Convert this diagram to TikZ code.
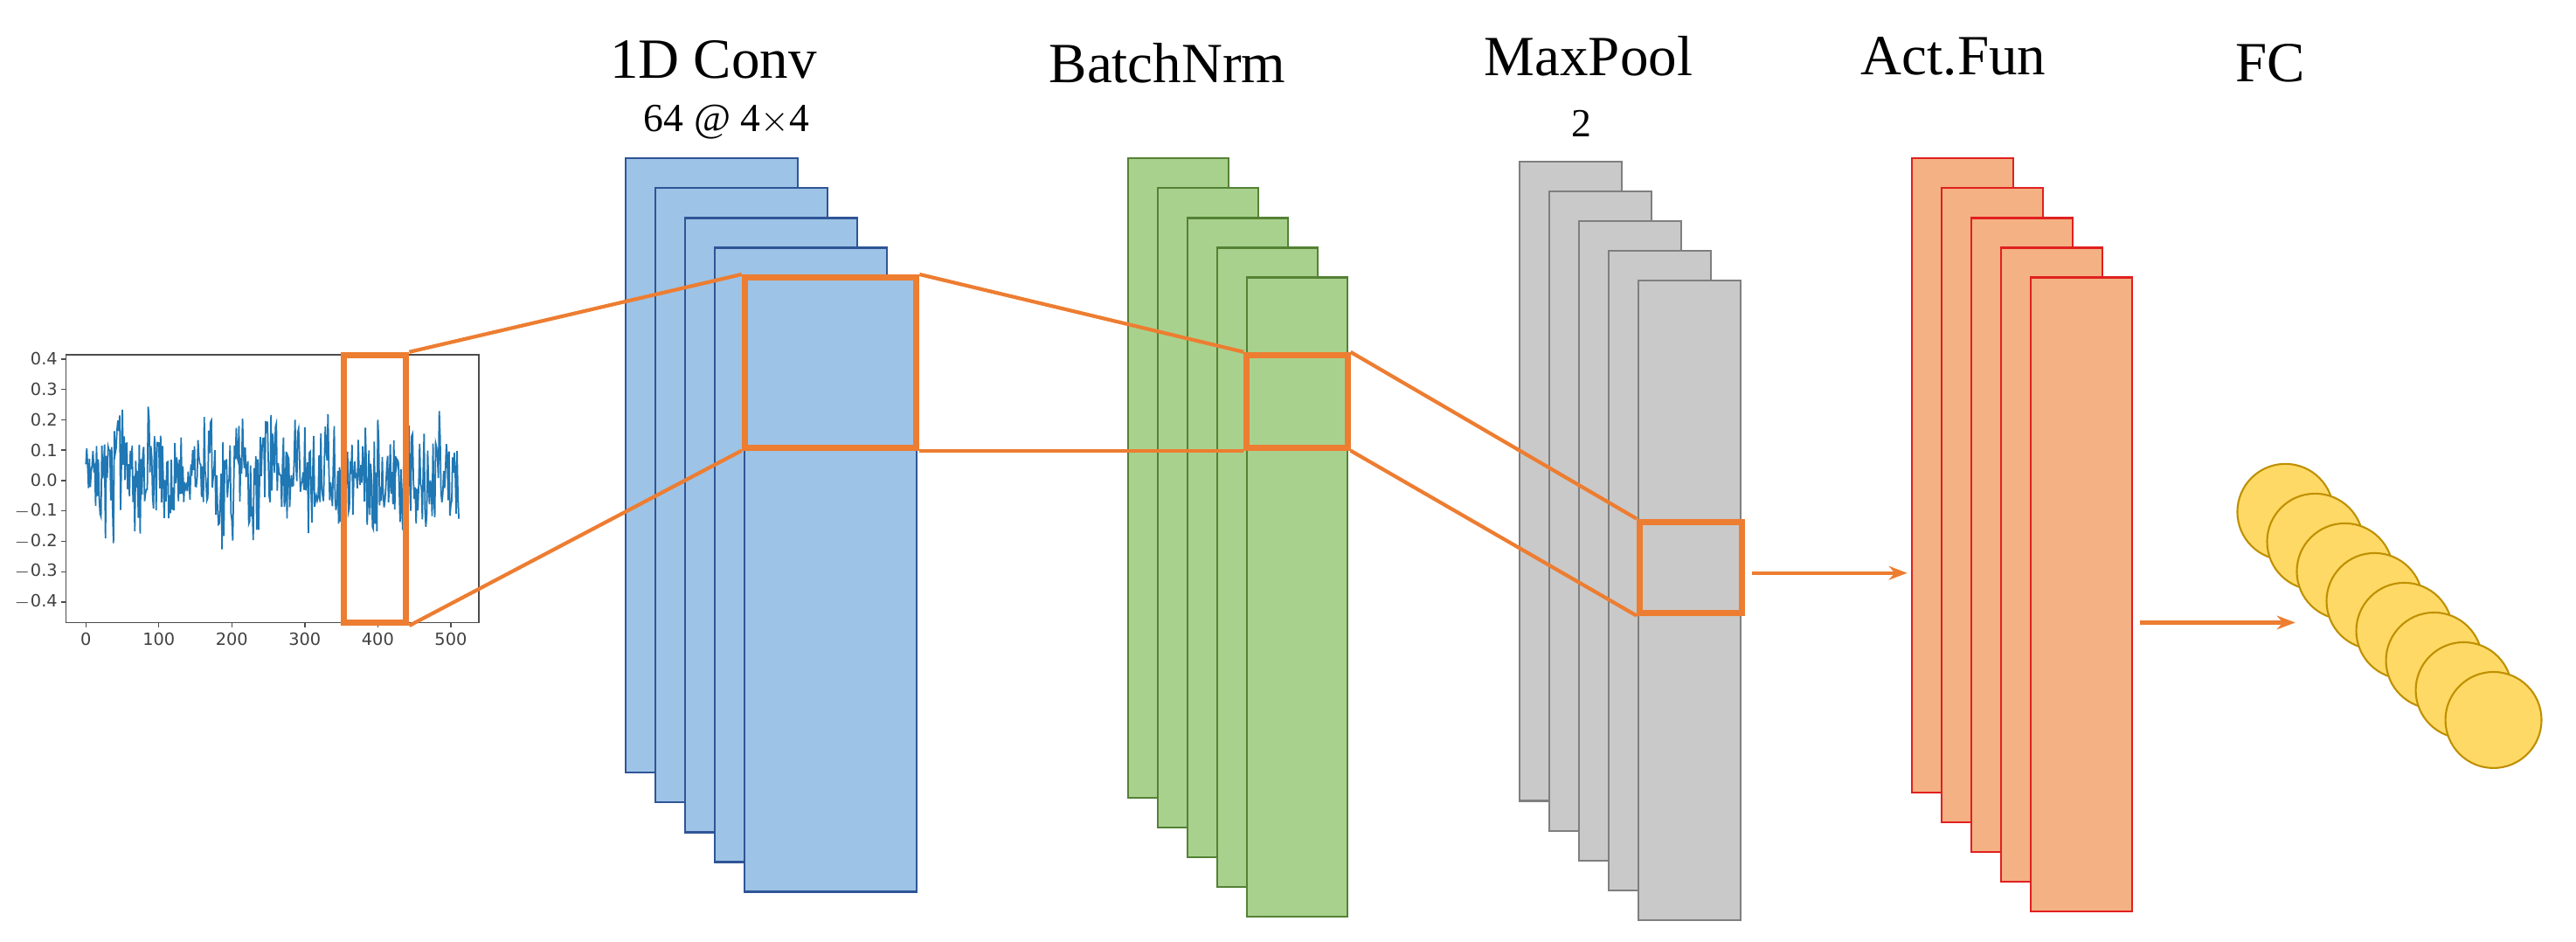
\documentclass[tikz,border=0pt]{standalone}
\usetikzlibrary{arrows.meta}
\usepackage{fontspec}
\setmainfont{Liberation Serif}
\newfontfamily\axf{DejaVu Sans}
\definecolor{cblue}{HTML}{9DC3E6}\definecolor{bblue}{HTML}{2F5597}
\definecolor{cgreen}{HTML}{A9D18E}\definecolor{bgreen}{HTML}{548235}
\definecolor{cgray}{HTML}{C9C9C9}\definecolor{bgray}{HTML}{7F7F7F}
\definecolor{cor}{HTML}{ED7D31}
\definecolor{cact}{HTML}{F4B183}\definecolor{bact}{HTML}{E02020}
\definecolor{cfc}{HTML}{FFD966}\definecolor{bfc}{HTML}{BF9000}
\definecolor{sig}{HTML}{1F77B4}
\begin{document}
\begin{tikzpicture}[x=0.0189cm,y=-0.0189cm,
  conv/.style={draw=bblue,fill=cblue,line width=0.6pt},
  bn/.style={draw=bgreen,fill=cgreen,line width=0.6pt},
  mp/.style={draw=bgray,fill=cgray,line width=0.6pt},
  act/.style={draw=bact,fill=cact,line width=0.6pt},
  fc/.style={circle,draw=bfc,fill=cfc,minimum size=1.1cm,inner sep=0pt,line width=0.6pt},
  ob/.style={draw=cor,line width=2pt},
  ol/.style={draw=cor,line width=1.2pt},
  oa/.style={draw=cor,line width=1.2pt,-{Stealth[length=6pt]}},
  ttl/.style={font=\fontsize{18.5}{20}\selectfont},
  sub/.style={font=\fontsize{13}{15}\selectfont},
  tk/.style={font=\axf\fontsize{5.5}{6}\selectfont,text=black!75}]
\useasboundingbox (0,0) rectangle (1560,570);
% plot
\draw[black!70,line width=0.5pt] (40,215) rectangle (290,377);
\foreach \v/\l in {0.4/0.4,0.3/0.3,0.2/0.2,0.1/0.1,0/0.0,-0.1/$-$0.1,-0.2/$-$0.2,-0.3/$-$0.3,-0.4/$-$0.4}{
  \draw[black!70] (40,{291-184*\v}) -- (37,{291-184*\v});
  \node[tk,anchor=east,inner sep=1pt] at (37,{291-184*\v}) {\l};}
\foreach \v in {0,100,200,300,400,500}{
  \draw[black!70] ({52+\v*0.442},377) -- ({52+\v*0.442},380);
  \node[tk,anchor=north,inner sep=1.5pt] at ({52+\v*0.442},380) {\v};}
\pgfmathsetseed{7}
\draw[sig,line width=0.5pt] plot[samples=420,domain=0:511,variable=\t] ({52+\t*0.442},{291-184*(0.02+0.16*rand+0.12*rand*rand*rand+0.05*sin(\t*9))});
\node[ob,minimum width=38*0.0189cm,minimum height=162*0.0189cm,inner sep=0pt,draw] (pb) at (227,296) {};
% conv
\foreach \i in {0,...,4}{\draw[conv] ({379+18*\i},{96+18*\i}) rectangle ({483+18*\i},{468+18*\i});}
\node[ob,draw,minimum width=104*0.0189cm,minimum height=103*0.0189cm,inner sep=0pt] (cb) at (503,219.5) {};
% bn
\foreach \i in {0,...,4}{\draw[bn] ({683+18*\i},{96+18*\i}) rectangle ({744+18*\i},{483+18*\i});}
\node[ob,draw,minimum width=61*0.0189cm,minimum height=56*0.0189cm,inner sep=0pt] (bb) at (785.5,243) {};
% mp
\foreach \i in {0,...,4}{\draw[mp] ({920+18*\i},{98+18*\i}) rectangle ({982+18*\i},{485+18*\i});}
\node[ob,draw,minimum width=62*0.0189cm,minimum height=55*0.0189cm,inner sep=0pt] (mb) at (1024,343.5) {};
% act
\foreach \i in {0,...,4}{\draw[act] ({1158+18*\i},{96+18*\i}) rectangle ({1219+18*\i},{480+18*\i});}
\coordinate (actl) at (1155,347);
\coordinate (actr) at (1296,377);
\coordinate (mpo) at (1061,347);
% fc
\foreach \i in {0,...,7}{\node[fc] (f\i) at ({1384+18*\i},{310+18*\i}) {};}
\coordinate (fcin) at (1390,377);
% connectors
\draw[ol] (pb.north east) -- (cb.north west);
\draw[ol] (pb.south east) -- (cb.south west);
\draw[ol] (cb.north east) -- (bb.north west);
\draw[ol] (cb.south east) -- (bb.south west);
\draw[ol] (bb.north east) -- (mb.north west);
\draw[ol] (bb.south east) -- (mb.south west);
\draw[oa] (mpo) -- (actl);
\draw[oa] (actr) -- (fcin);
% titles
\node[ttl] (t1) at (432,36) {1D Conv};
\node[sub] (t1b) at (440,74) {64 @ 4$\times$4};
\node[ttl] (t2) at (707,38) {BatchNrm};
\node[ttl] (t3) at (962,34) {MaxPool};
\node[sub] (t3b) at (958,75) {2};
\node[ttl] (t4) at (1183,34) {Act.Fun};
\node[ttl] (t5) at (1375,38) {FC};
\end{tikzpicture}
\end{document}
